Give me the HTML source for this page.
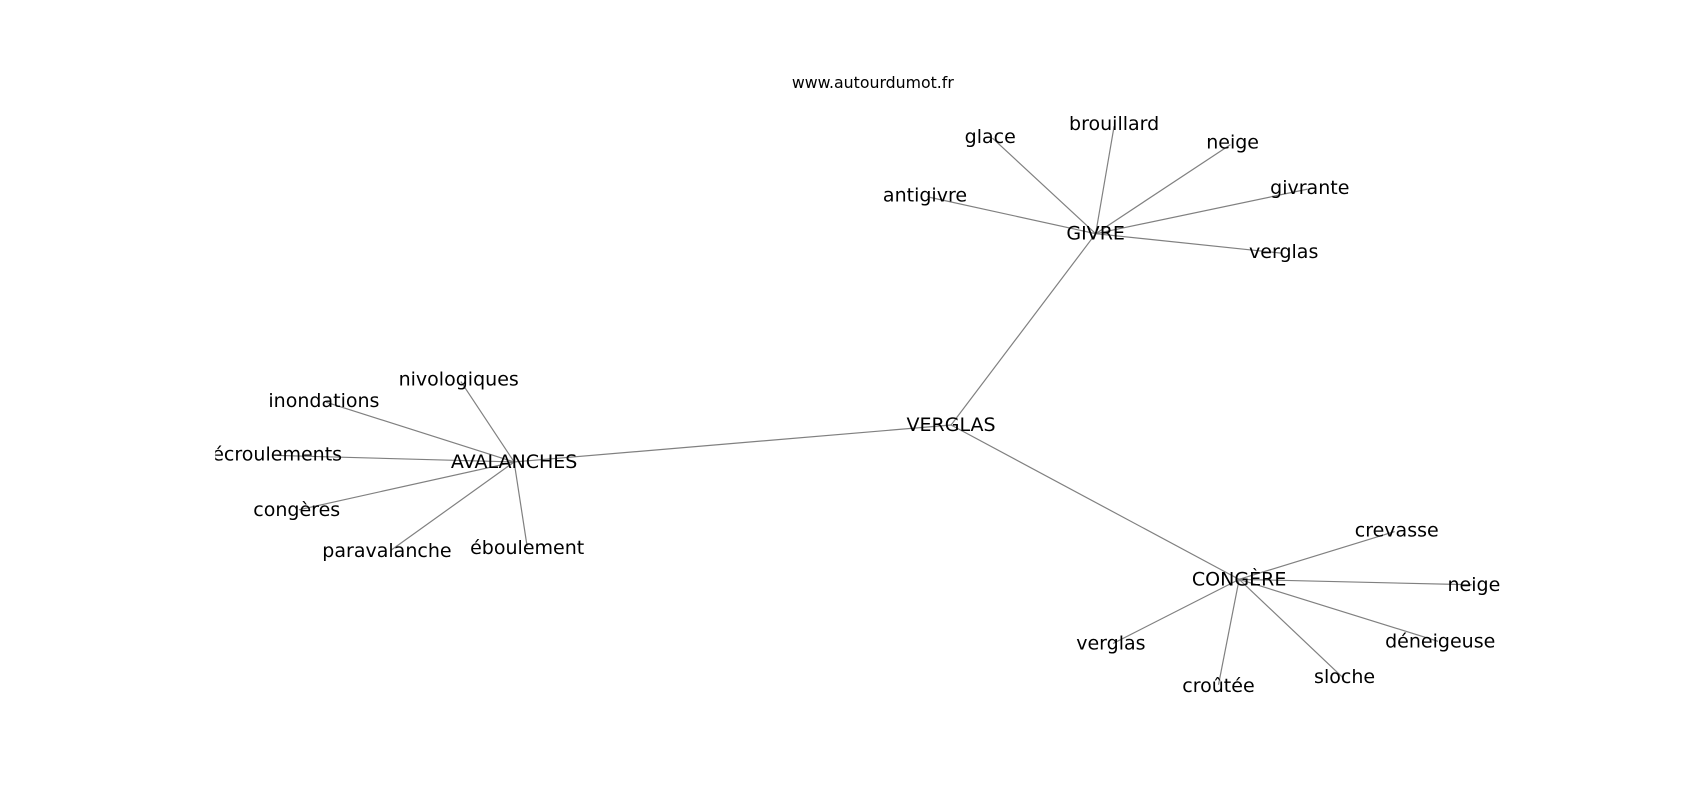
<!DOCTYPE html>
<html><head><meta charset="utf-8"><style>
html,body{margin:0;padding:0;background:#fff;}
svg text{font-family:"DejaVu Sans","Liberation Sans",sans-serif;fill:#000;}
</style></head><body>
<svg width="1700" height="800" viewBox="0 0 1700 800" xmlns="http://www.w3.org/2000/svg">
<defs><clipPath id="ax"><rect x="198" y="0" width="1400" height="800"/></clipPath></defs>
<g transform="scale(1.08696)">
<text x="803" y="81" font-size="14.5" text-anchor="middle">www.autourdumot.fr</text>
<g clip-path="url(#ax)">
<g stroke="#808080" stroke-width="1.1" fill="none">
<line x1="875" y1="391" x2="1008" y2="215"/>
<line x1="875" y1="391" x2="473" y2="425"/>
<line x1="875" y1="391" x2="1140" y2="533"/>
<line x1="1008" y1="215" x2="913" y2="127"/>
<line x1="1008" y1="215" x2="1025" y2="116"/>
<line x1="1008" y1="215" x2="1132" y2="133"/>
<line x1="1008" y1="215" x2="1203" y2="174"/>
<line x1="1008" y1="215" x2="1180" y2="233"/>
<line x1="1008" y1="215" x2="853" y2="181"/>
<line x1="473" y1="425" x2="424" y2="351"/>
<line x1="473" y1="425" x2="300" y2="370"/>
<line x1="473" y1="425" x2="255" y2="419"/>
<line x1="473" y1="425" x2="275" y2="469"/>
<line x1="473" y1="425" x2="360" y2="506"/>
<line x1="473" y1="425" x2="485" y2="503"/>
<line x1="1140" y1="533" x2="1283" y2="489"/>
<line x1="1140" y1="533" x2="1354" y2="538"/>
<line x1="1140" y1="533" x2="1323" y2="590"/>
<line x1="1140" y1="533" x2="1235" y2="623"/>
<line x1="1140" y1="533" x2="1121" y2="630"/>
<line x1="1140" y1="533" x2="1024" y2="592"/>
</g>
<g font-size="17.5" text-anchor="middle" dominant-baseline="central">
<text x="875" y="391">VERGLAS</text>
<text x="1008" y="215">GIVRE</text>
<text x="473" y="425">AVALANCHES</text>
<text x="1140" y="533">CONGÈRE</text>
<text x="911" y="126">glace</text>
<text x="1025" y="114">brouillard</text>
<text x="1134" y="131">neige</text>
<text x="1205" y="173">givrante</text>
<text x="1181" y="232">verglas</text>
<text x="851" y="180">antigivre</text>
<text x="422" y="349">nivologiques</text>
<text x="298" y="369">inondations</text>
<text x="255" y="418">écroulements</text>
<text x="273" y="469">congères</text>
<text x="356" y="507">paravalanche</text>
<text x="485" y="504">éboulement</text>
<text x="1285" y="488">crevasse</text>
<text x="1356" y="538">neige</text>
<text x="1325" y="590">déneigeuse</text>
<text x="1237" y="623">sloche</text>
<text x="1121" y="631">croûtée</text>
<text x="1022" y="592">verglas</text>
</g>
</g>
</g>
</svg>
</body></html>
